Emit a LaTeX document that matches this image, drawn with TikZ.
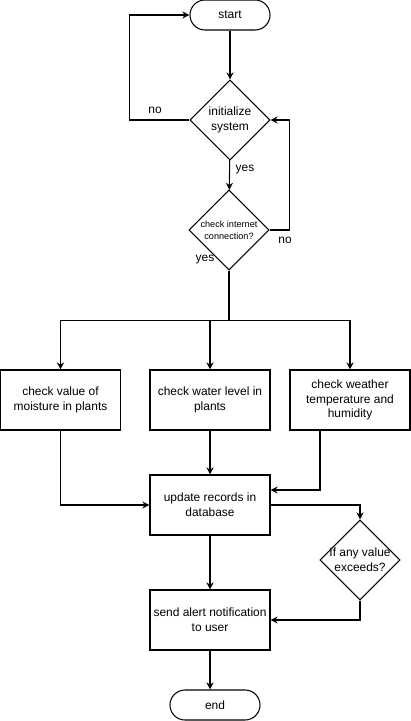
\documentclass[tikz,border=0pt]{standalone}
\usepackage{fontspec}
\setmainfont{Liberation Sans}
\usetikzlibrary{arrows.meta,shapes.geometric}
\newcommand{\fsz}{\fontsize{8.5}{10.6}\selectfont}
\tikzset{
  term/.style={draw,rounded corners=0.375cm,minimum width=#1,minimum height=0.75cm,line width=0.75pt,font=\fsz},
  term/.default=2cm,
  proc/.style={draw,minimum width=3cm,minimum height=1.5cm,align=center,line width=0.75pt,font=\fsz,inner sep=2pt},
  dec/.style={diamond,draw,minimum width=2cm,minimum height=2cm,inner sep=0pt,line width=0.75pt},
  dtxt/.style={font=#1,align=center,inner sep=0pt},
  dtxt/.default=\fsz,
  arr/.style={-{Stealth[length=5pt,width=5pt]},line width=0.75pt},
  ln/.style={line width=0.75pt},
  lbl/.style={font=\fsz,inner sep=0pt},
}

\begin{document}
\begin{tikzpicture}[x=0.025cm,y=-0.025cm]
    \useasboundingbox (0,0) rectangle (411,721);
    % top: start and the two checks
    \node[term] (start) at (230,15) {start};
    \node[dec] (init) at (230,120) {};
    \node[dtxt] (initT) at (init) {initialize\\system};
    \node[dec] (net) at (229,230) {};
    \node[dtxt={\fontsize{6.5}{8.5}\selectfont}] (netT) at (net) {check internet\\connection?};
    % the three checks
    \node[proc] (moist) at (60.5,400) {check value of\\moisture in plants};
    \node[proc] (water) at (210,400) {check water level in\\plants};
    \node[proc] (weather) at (350,400) {check weather\\temperature and\\humidity};
    % records, alert and end
    \node[proc] (upd) at (210,505) {update records in\\database};
    \node[dec] (exceed) at (360,560) {};
    \node[dtxt] (exceedT) at (exceed) {If any value\\exceeds?};
    \node[proc] (send) at (210,620) {send alert notification\\to user};
    \node[term=2.25cm] (end) at (215,705) {end};

    \draw[arr] (start) -- (init);
    \draw[arr] (init.west) -- ++(-60,0) |- (start.west);
    \node[lbl] (noA) at (155,110) {no};
    \draw[arr] (init) -- (net);
    \node[lbl] (yesA) at (245,170) {yes};
    \draw[arr] (net.east) -- ++(20,0) |- (init.east);
    \node[lbl] (noB) at (285,240) {no};
    \node[lbl] (yesB) at (205,260) {yes};
    \draw[ln] (net.south) -- ++(0,50) coordinate (split);
    \foreach \b in {moist,water,weather}
      \draw[arr] (split) -| (\b.north);
    \draw[arr] (moist.south) |- (upd.west);
    \draw[arr] (water) -- (upd);
    \draw[arr] ([xshift=-0.75cm]weather.south) |- ([yshift=0.375cm]upd.east);
    \draw[arr] (upd.east) -| (exceed.north);
    \draw[arr] (upd) -- (send);
    \draw[arr] (exceed.south) |- (send.east);
    \draw[arr] (send.south) -- (send.south |- end.north);
\end{tikzpicture}
\end{document}
